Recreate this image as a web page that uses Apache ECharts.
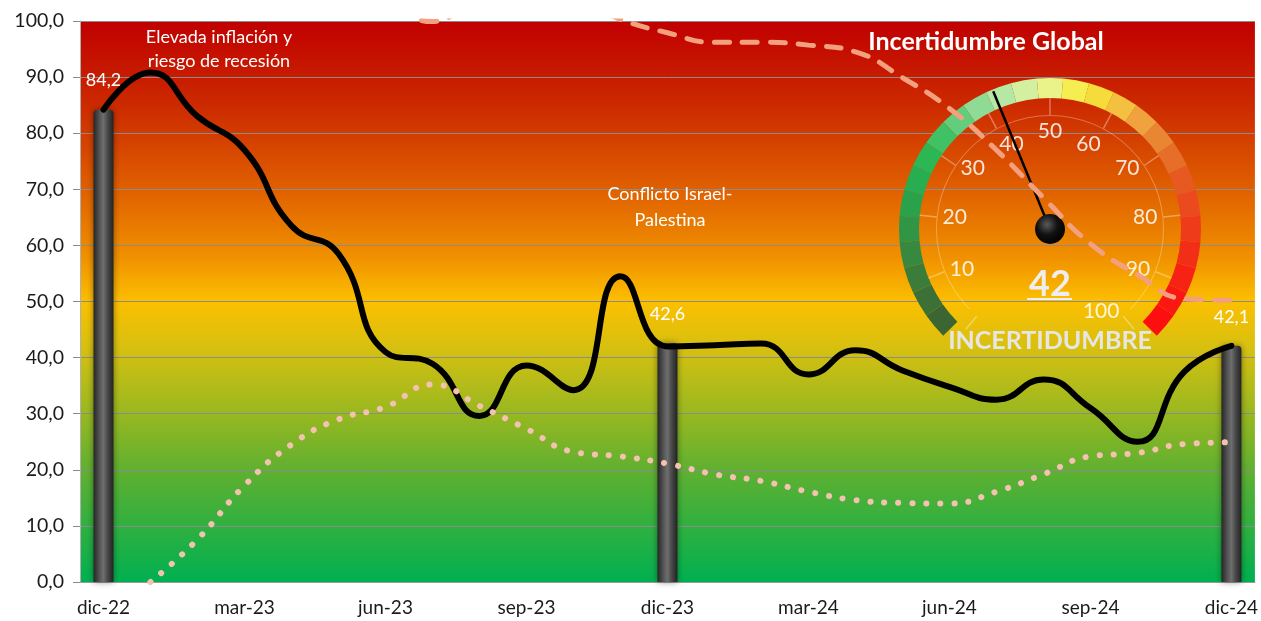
<!DOCTYPE html>
<html>
<head>
<meta charset="utf-8">
<script src="https://cdn.jsdelivr.net/npm/echarts@6/dist/echarts.min.js"></script>
<style>
  html, body { margin: 0; padding: 0; background: #fff; }
  #chart { width: 1261px; height: 621px; }
</style>
</head>
<body>
<div id="chart"></div>
<script>
// months, dic-22 .. dic-24
const months = [
  "dic-22", "ene-23", "feb-23", "mar-23", "abr-23", "may-23", "jun-23",
  "jul-23", "ago-23", "sep-23", "oct-23", "nov-23", "dic-23", "ene-24",
  "feb-24", "mar-24", "abr-24", "may-24", "jun-24", "jul-24", "ago-24",
  "sep-24", "oct-24", "nov-24", "dic-24",
];

// global uncertainty index (black line)
const uncertainty = [
  84.2, 90.8, 83.0, 77.0, 63.5, 58.5, 41.0, 38.9, 29.6, 38.6, 34.2, 54.5,
  42.0, 42.2, 42.5, 37.0, 41.3, 37.7, 34.8, 32.5, 36.1, 31.0, 25.0, 37.5,
  42.1,
];

// highlighted year-end values (bars)
const yearEnd = [
  84.2, null, null, null, null, null, null, null, null, null, null, null,
  42.6, null, null, null, null, null, null, null, null, null, null, null,
  42.1,
];

// pink dotted series
const dotted = [
  null, 0.0, 7.6, 17.2, 24.5, 29.0, 31.2, 35.2, 31.4, 27.3, 23.2, 22.4,
  21.1, 19.2, 18.0, 16.1, 14.6, 14.1, 14.0, 16.1, 19.2, 22.4, 23.0, 24.6,
  24.9,
];

// salmon dashed series (above 100 is cut off by the plot)
const dashed = [
  115, 115, 115, 112, 110, 108, 104, 99.9, 104, 105, 104, 100.3,
  97.9, 96.2, 96.2, 95.7, 94.5, 89.9, 84.4, 77.0, 68.5, 60.3, 54.8, 50.5,
  50.2,
];

const gaugeValue = 42;

const font = "Lato";
const comma = (v) => v.toFixed(1).replace(".", ",");

// colour of the gauge ring, one step every 10 degrees
const arcSteps = [
  "#3b6533", "#3d7036", "#3c7c3a", "#37893f", "#309645", "#2aa24b", "#28ad50",
  "#2cb755", "#40c264", "#62cd7d", "#8fdb95", "#b5e8a5", "#d2f0a0", "#eaf28a",
  "#f6ee50", "#f6dc3a", "#f4c040", "#f0a23e", "#e98634", "#e66e28", "#e65a22",
  "#ea4a1e", "#ee3c1a", "#f22e16", "#f62214", "#fa1812", "#fd0f0f",
];
const arcColors = arcSteps.map((c, i) => [(i + 1) / arcSteps.length, c]);

const chart = echarts.init(document.getElementById("chart"), null, { renderer: "canvas" });

chart.setOption({
  animation: false,
  textStyle: { fontFamily: font },
  grid: {
    left: 80, right: 5, top: 21, bottom: 39,
    show: true,
    borderWidth: 0,
    backgroundColor: new echarts.graphic.LinearGradient(0, 0, 0, 1, [
      { offset: 0, color: "#c00000" },
      { offset: 0.15, color: "#cc2a00" },
      { offset: 0.3, color: "#e06000" },
      { offset: 0.42, color: "#f09000" },
      { offset: 0.5, color: "#fcbf00" },
      { offset: 0.58, color: "#d8c010" },
      { offset: 0.7, color: "#98b820" },
      { offset: 0.8, color: "#60b030" },
      { offset: 0.9, color: "#30b040" },
      { offset: 1, color: "#00b050" },
    ]),
  },
  xAxis: {
    type: "category",
    data: months,
    boundaryGap: true,
    axisLine: { lineStyle: { color: "#9a9a9a" } },
    axisTick: { interval: 2, length: 6, lineStyle: { color: "#9a9a9a" } },
    axisLabel: { interval: 2, color: "#1a1a1a", fontSize: 19, margin: 16, fontFamily: font },
  },
  yAxis: {
    type: "value",
    min: 0,
    max: 100,
    interval: 10,
    axisLine: { show: true, lineStyle: { color: "#b0b0b0" } },
    axisTick: { show: true, length: 7, lineStyle: { color: "#8c8c8c" } },
    axisLabel: { formatter: comma, color: "#1a1a1a", fontSize: 19.5, margin: 16, fontFamily: font },
    splitLine: { lineStyle: { color: "#8c8c8c", width: 1 } },
  },
  graphic: [
    {
      type: "text", z: 10,
      style: { text: "Elevada inflación y\nriesgo de recesión", x: 219, y: 49, align: "center", verticalAlign: "middle", fill: "#fff", font: "18px " + font, lineHeight: 24 },
    },
    {
      type: "text", z: 10,
      style: { text: "Conflicto Israel-\nPalestina", x: 670, y: 207, align: "center", verticalAlign: "middle", fill: "#fff", font: "18px " + font, lineHeight: 26 },
    },
    {
      type: "text", z: 10,
      style: { text: "Incertidumbre Global", x: 986, y: 42, align: "center", verticalAlign: "middle", fill: "#fff", font: "bold 25px " + font },
    },
    {
      type: "rect", z: 10,
      shape: { x: 1027, y: 298, width: 45, height: 2 },
      style: { fill: "#eeeeee" },
    },
  ],
  series: [
    {
      type: "bar",
      data: yearEnd,
      barWidth: 20,
      z: 2,
      itemStyle: {
        borderRadius: [4, 4, 0, 0],
        shadowBlur: 6,
        shadowColor: "rgba(0,0,0,0.45)",
        color: new echarts.graphic.LinearGradient(0, 0, 1, 0, [
          { offset: 0, color: "#262626" },
          { offset: 0.35, color: "#5c5c5c" },
          { offset: 0.5, color: "#6e6e6e" },
          { offset: 0.7, color: "#4a4a4a" },
          { offset: 1, color: "#222222" },
        ]),
      },
      label: {
        show: true,
        position: "top",
        distance: 20,
        color: "#fff",
        fontSize: 18,
        fontFamily: font,
        formatter: (p) => comma(p.value),
      },
    },
    {
      type: "line",
      data: uncertainty,
      smooth: 0.5,
      showSymbol: false,
      z: 3,
      lineStyle: { color: "#000", width: 6, cap: "round" },
    },
    {
      type: "line",
      data: dotted,
      smooth: 0.5,
      showSymbol: false,
      z: 3,
      lineStyle: { color: "#f5c2b2", width: 6, type: [0.1, 13.9], cap: "round" },
    },
    {
      type: "gauge",
      center: [1050, 229],
      radius: 151,
      startAngle: 225,
      endAngle: -45,
      z: 4,
      axisLine: { lineStyle: { width: 20, color: arcColors } },
      pointer: { show: false },
      anchor: { show: false },
      axisTick: { show: false },
      splitLine: { show: false },
      axisLabel: { show: false },
      title: { show: false },
      detail: { show: false },
      data: [{ value: 0 }],
    },
    {
      type: "gauge",
      center: [1050, 229],
      radius: 114,
      startAngle: 225,
      endAngle: -45,
      z: 4,
      axisLine: { lineStyle: { width: 1, color: [[1, "rgba(255,255,255,0.3)"]] } },
      pointer: { show: false },
      anchor: { show: false },
      axisTick: { show: false },
      splitLine: { show: false },
      axisLabel: { show: false },
      title: { show: false },
      detail: { show: false },
      data: [{ value: 0 }],
    },
    {
      type: "gauge",
      center: [1050, 229],
      radius: 131,
      startAngle: 230,
      endAngle: -50,
      min: 0,
      max: 100,
      splitNumber: 10,
      z: 5,
      axisLine: { show: false, lineStyle: { width: 0 } },
      axisTick: { show: false },
      splitLine: { length: 17, distance: 0, lineStyle: { color: "rgba(255,255,255,0.35)", width: 1.5 } },
      axisLabel: {
        distance: 6,
        color: "rgba(255,255,255,0.85)",
        fontSize: 21,
        fontFamily: font,
        formatter: (v) => (v === 0 ? "" : String(v)),
      },
      pointer: {
        show: true,
        icon: "rect",
        length: 149,
        width: 2.5,
        offsetCenter: [0, 0],
        itemStyle: { color: "#000" },
      },
      anchor: {
        show: true,
        showAbove: true,
        size: 30,
        itemStyle: {
          borderWidth: 0,
          color: new echarts.graphic.RadialGradient(0.4, 0.35, 0.7, [
            { offset: 0, color: "#5a5a5a" },
            { offset: 0.5, color: "#111" },
            { offset: 1, color: "#000" },
          ]),
        },
      },
      title: {
        offsetCenter: [0, 112],
        fontSize: 25,
        fontWeight: "bold",
        color: "#e6e6e6",
        fontFamily: font,
      },
      detail: {
        offsetCenter: [0, 55],
        fontSize: 36,
        fontWeight: "bold",
        color: "#eeeeee",
        fontFamily: font,
        formatter: "{value}",
      },
      data: [{ value: gaugeValue, name: "INCERTIDUMBRE" }],
    },
    {
      type: "line",
      data: dashed,
      smooth: 0.5,
      showSymbol: false,
      z: 6,
      lineStyle: { color: "#f2a07e", width: 5, type: [15, 13], cap: "round" },
    },
  ],
});
</script>
</body>
</html>
